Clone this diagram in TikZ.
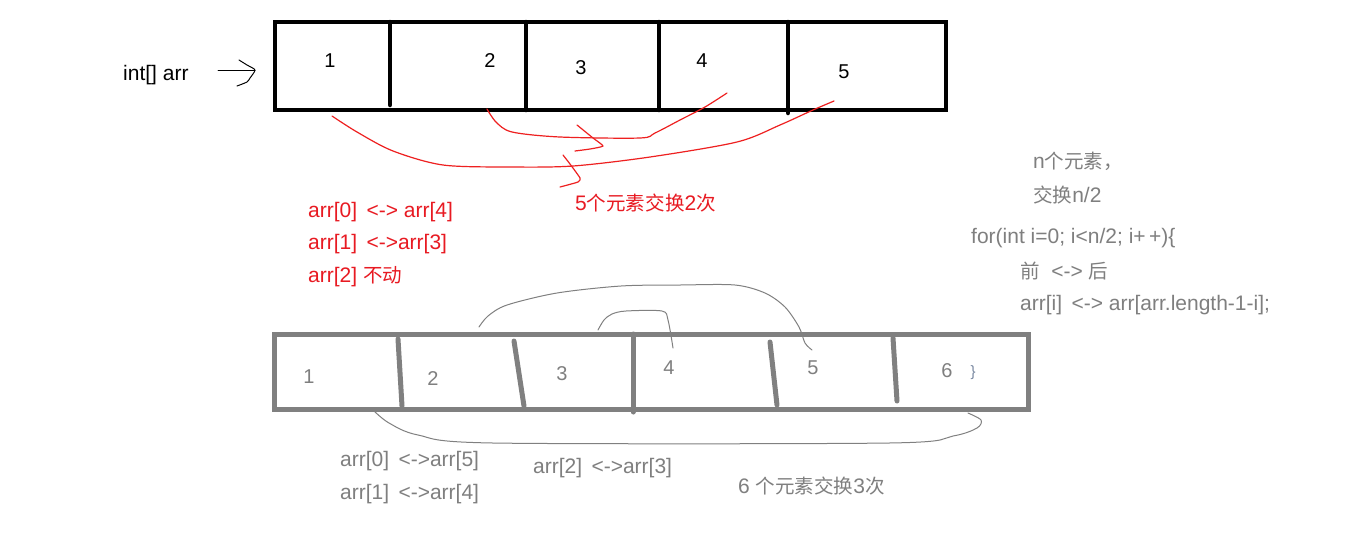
\documentclass[tikz,border=0pt]{standalone}
\usepackage{fontspec}
\setmainfont{Liberation Sans}
\newfontfamily\cjk[Scale=0.93]{Noto Sans CJK SC}
\definecolor{myred}{RGB}{232,26,34}
\definecolor{linered}{RGB}{238,32,32}
\definecolor{mygray}{RGB}{127,127,127}
\definecolor{boxgray}{RGB}{128,128,128}
\definecolor{bracegray}{RGB}{120,135,160}
\begin{document}
\begin{tikzpicture}[x=1pt,y=-1pt,
  txt/.style={anchor=base west, inner sep=0pt, font=\fontsize{21}{25}\selectfont},
  redtxt/.style={txt, text=myred},
  graytxt/.style={txt, text=mygray},
  numtxt/.style={anchor=base, inner sep=0pt, font=\fontsize{20}{24}\selectfont},
  blackbox/.style={draw=black, line width=4.5pt},
  graybox/.style={draw=boxgray, line width=5pt},
  blackdiv/.style={draw=black, line width=4.5pt, line cap=round},
  graydiv/.style={draw=boxgray, line width=5pt, line cap=round},
  redline/.style={draw=linered, line width=1.2pt, line join=round, line cap=round},
  grayline/.style={draw=boxgray, line width=1pt, line join=round, line cap=round},
  thinblack/.style={draw=black, line width=1pt, line join=round, line cap=round}]
\useasboundingbox (0,0) rectangle (1352,539);
\fill[white] (0,0) rectangle (1352,539);

% ---------- top array ----------
\draw[blackbox] (275,22) rectangle (946,110);
\draw[blackdiv] (390,22) -- (390,105);
\draw[blackdiv] (526,22) -- (526,110);
\draw[blackdiv] (659,22) -- (659,110);
\draw[blackdiv] (788,22) -- (788,113);

\node[numtxt] (t1) at (330,67) {1};
\node[numtxt] (t2) at (490,67) {2};
\node[numtxt] (t3) at (581,74) {3};
\node[numtxt] (t4) at (702,67) {4};
\node[numtxt] (t5) at (844,78) {5};

\node[txt] (lbl) at (123,80) {int[] arr};
\coordinate (arrS) at (218,70);
\coordinate (arrE) at (255,70);
\draw[thinblack] (arrS) -- (arrE);
\draw[thinblack] plot[smooth, tension=0.4] coordinates {(239,60) (247,65) (arrE) (250,78) (247,82) (237,86)};

% red curves
\coordinate (r1s) at (332,116);
\coordinate (r1e) at (834,101);
\coordinate (r2s) at (487,109);
\coordinate (r2e) at (727,93);
\draw[redline] plot[smooth, tension=0.5] coordinates {(r1s) (357,132) (393,151) (443,165) (510,167) (573,166) (650,157) (737,142) (780,125) (813,110) (r1e)};
\draw[redline] plot[smooth, tension=0.5] coordinates {(r2s) (496,122) (512,132) (560,137) (640,138) (655,133) (680,120) (705,107) (r2e)};
\draw[redline] plot[smooth, tension=0.3] coordinates {(577,125) (593,138) (603,146) (590,149) (575,151)};
\draw[redline] plot[smooth, tension=0.3] coordinates {(563,155) (570,164) (580,178) (578,182) (560,187)};

% red texts
\node[redtxt] (ra) at (308,217) {arr[0]\, <-> arr[4]};
\node[redtxt] (rb) at (308,249) {arr[1]\, <->arr[3]};
\node[redtxt] (rc) at (308,282) {arr[2] {\cjk 不动}};
\node[redtxt] (rd) at (575,210) {5{\cjk 个元素交换}2{\cjk 次}};

% gray texts right
\node[graytxt] (g1) at (1033,168) {n{\cjk 个元素，}};
\node[graytxt] (g2) at (1033,202) {{\cjk 交换}n/2};
\node[graytxt] (g3) at (971,243) {for(int i=0; i<n/2; i+\,+)\{};
\node[graytxt] (g4) at (1020,278) {{\cjk 前}\ \ <-> {\cjk 后}};
\node[graytxt] (g5) at (1020,310) {arr[i]\, <-> arr[arr.length-1-i];};

% ---------- bottom array ----------
\draw[graybox] (274.5,334) rectangle (1028,409);
\draw[graydiv] (398,339) -- (402,406);
\draw[graydiv] (514,341) -- (524,406);
\draw[graydiv] (633,334) -- (633,412);
\draw[graydiv] (770,342) -- (777,405);
\draw[graydiv] (893,338) -- (897,401);

\node[numtxt, text=mygray] (b1) at (309,383) {1};
\node[numtxt, text=mygray] (b2) at (433,385) {2};
\node[numtxt, text=mygray] (b3) at (562,380) {3};
\node[numtxt, text=mygray] (b4) at (669,374) {4};
\node[numtxt, text=mygray] (b5) at (813,374) {5};
\node[numtxt, text=mygray] (b6) at (947,377) {6};
\node[anchor=base, inner sep=0pt, font=\fontsize{15}{18}\selectfont, text=bracegray] (br) at (973,376) {\}};

% gray curves
\coordinate (g25s) at (479,327);
\coordinate (g25e) at (812,350);
\coordinate (g34s) at (598,330);
\coordinate (g34e) at (673,348);
\coordinate (g16s) at (374,411);
\coordinate (g16e) at (968,413);
\draw[grayline] plot[smooth, tension=0.5] coordinates {(g25s) (488,316) (507,305) (557,293) (621,286) (680,285) (735,285) (765,293) (785,307) (799,327) (805,343) (g25e)};
\draw[grayline] plot[smooth, tension=0.5] coordinates {(g34s) (604,320) (612,314) (626,311) (662,311) (668,320) (g34e)};
\draw[grayline] plot[smooth, tension=0.5] coordinates {(g16s) (389,423) (418,435) (493,443) (889,443) (953,436) (977,428) (981,420) (g16e)};

% bottom gray texts
\node[graytxt] (h1) at (340,466) {arr[0]\, <->arr[5]};
\node[graytxt] (h2) at (340,499) {arr[1]\, <->arr[4]};
\node[graytxt] (h3) at (533,473) {arr[2]\, <->arr[3]};
\node[graytxt] (h4) at (738,493) {6 {\cjk 个元素交换}3{\cjk 次}};
\end{tikzpicture}
\end{document}
